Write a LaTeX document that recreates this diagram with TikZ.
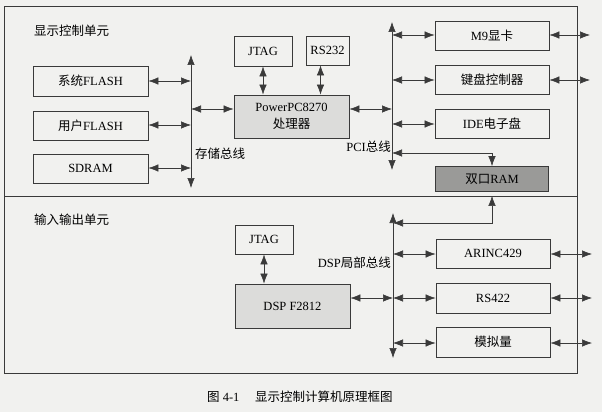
\documentclass[tikz,border=0pt]{standalone}
\usepackage{fontspec}
\setmainfont{Liberation Serif}
\newfontfamily\cjk{Noto Sans CJK SC}
\usetikzlibrary{arrows.meta}
\definecolor{bg}{HTML}{F1F1EF}
\definecolor{ln}{HTML}{3A3A3A}
\definecolor{lgray}{HTML}{DCDCDA}
\definecolor{dgray}{HTML}{9A9A98}
\tikzset{
  box/.style={draw=ln, line width=0.7pt, minimum height=29pt, minimum width=114pt, inner sep=0pt, font=\fontsize{12.5}{17}\selectfont},
  small/.style={box, minimum width=58pt, minimum height=30pt},
  cpu/.style={box, fill=lgray, minimum width=115pt, minimum height=43pt, align=center},
  bi/.style={{Latex[length=10pt,width=7.5pt]}-{Latex[length=10pt,width=7.5pt]}, draw=ln, line width=0.6pt},
  lbl/.style={font=\fontsize{12.5}{14}\selectfont, inner sep=0pt},
}
\begin{document}
\begin{tikzpicture}[x=1pt,y=-1pt]
\useasboundingbox[fill=bg] (0,0) rectangle (602,412);
% frame
\draw[ln, line width=0.8pt] (4,6) rectangle (577,373);
\draw[ln, line width=0.8pt] (4,196) -- (577,196);
\node[lbl, anchor=west] (t1) at (34,31) {\cjk 显示控制单元};
\node[lbl, anchor=west] (t2) at (34,220) {\cjk 输入输出单元};
% left memory boxes
\node[box, minimum width=115pt, minimum height=30pt] (sf) at (90.5,81) {{\cjk 系统}FLASH};
\node[box, minimum width=115pt, minimum height=29pt] (uf) at (90.5,125.5) {{\cjk 用户}FLASH};
\node[box, minimum width=115pt, minimum height=29pt] (sd) at (90.5,168.5) {SDRAM};
% storage bus
\coordinate (sbt) at (191,55);
\coordinate (sbb) at (191,188);
\draw[bi] (sbt) -- (sbb);
\node[lbl, anchor=west] (sbl) at (195,154) {\cjk 存储总线};
\coordinate (sb1) at (191,81);
\coordinate (sb2) at (191,125);
\coordinate (sb3) at (191,168);
\coordinate (sb4) at (191,109);
\draw[bi] (sf.east |- sb1) -- (sb1);
\draw[bi] (uf.east |- sb2) -- (sb2);
\draw[bi] (sd.east |- sb3) -- (sb3);
% CPU
\node[small] (jt1) at (263,51) {JTAG};
\node[small, minimum width=43pt, minimum height=29pt] (rs) at (327.5,50.5) {RS232};
\node[cpu] (ppc) at (291.5,116.5) {PowerPC8270\\{\cjk 处理器}};
\draw[bi] (sb4) -- (ppc.west |- sb4);
\draw[bi] (jt1.south) -- (jt1.south |- ppc.north);
\coordinate (rsx) at (320.5,0);
\draw[bi] (rs.south -| rsx) -- (ppc.north -| rsx);
% PCI bus
\coordinate (pbt) at (392,22);
\coordinate (pbb) at (392,170);
\draw[bi] (pbt) -- (pbb);
\node[lbl, anchor=east] (pbl) at (391,147) {PCI{\cjk 总线}};
\coordinate (pb0) at (392,109);
\coordinate (pb1) at (392,35);
\coordinate (pb2) at (392,80);
\coordinate (pb3) at (392,124);
\coordinate (pb4) at (392,153);
\draw[bi] (ppc.east |- pb0) -- (pb0);
\node[box] (m9) at (492,35.5) {M9{\cjk 显卡}};
\node[box] (kb) at (492,79.5) {\cjk 键盘控制器};
\node[box] (ide) at (492,123.5) {IDE{\cjk 电子盘}};
\node[box, fill=dgray, minimum height=25pt, minimum width=113pt] (ram) at (492,179) {{\cjk 双口}RAM};
\draw[bi] (pb1) -- (m9.west |- pb1);
\draw[bi] (pb2) -- (kb.west |- pb2);
\draw[bi] (pb3) -- (ide.west |- pb3);
\coordinate (o1) at (590,35);
\coordinate (o2) at (590,80);
\draw[bi] (m9.east |- o1) -- (o1);
\draw[bi] (kb.east |- o2) -- (o2);
\draw[bi] (pb4) -| (ram.north);
% lower section
\node[small, minimum height=29pt] (jt2) at (264,239.5) {JTAG};
\node[cpu, minimum height=44pt] (dsp) at (292.5,306) {DSP F2812};
\draw[bi] (jt2.south) -- (dsp.north -| jt2.south);
\coordinate (dbt) at (393,213);
\coordinate (dbb) at (393,358);
\draw[bi] (dbt) -- (dbb);
\node[lbl, anchor=east] (dbl) at (391,263) {DSP{\cjk 局部总线}};
\coordinate (db0) at (393,223);
\coordinate (db1) at (393,254);
\coordinate (db2) at (393,298);
\coordinate (db3) at (393,343);
\draw[bi, shorten >=4pt] (db0) -| (ram.south);
\draw[bi] (dsp.east |- db2) -- (db2);
\node[box] (ar) at (493,253.5) {ARINC429};
\node[box, minimum height=30pt] (r4) at (493,298) {RS422};
\node[box, minimum height=30pt] (an) at (493,342) {\cjk 模拟量};
\draw[bi] (db1) -- (ar.west |- db1);
\draw[bi] (db2) -- (r4.west |- db2);
\draw[bi] (db3) -- (an.west |- db3);
\coordinate (o3) at (592,254);
\coordinate (o4) at (592,298);
\coordinate (o5) at (592,343);
\draw[bi] (ar.east |- o3) -- (o3);
\draw[bi] (r4.east |- o4) -- (o4);
\draw[bi] (an.east |- o5) -- (o5);
% caption
\node[lbl, anchor=west] (cap1) at (207,397) {{\cjk 图} 4-1};
\node[lbl, anchor=west] (cap2) at (255,397) {\cjk 显示控制计算机原理框图};
\end{tikzpicture}
\end{document}
